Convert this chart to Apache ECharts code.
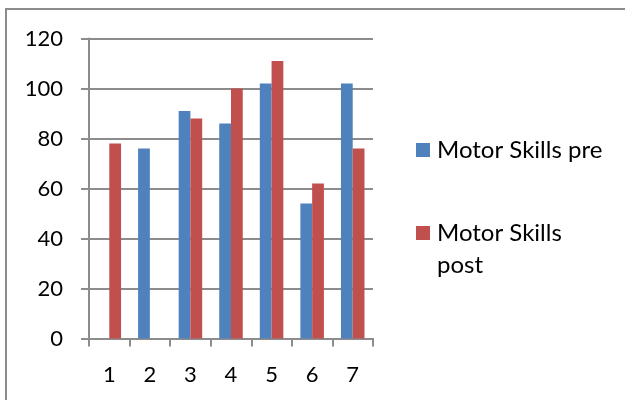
<!DOCTYPE html>
<html>
<head>
<meta charset="utf-8">
<style>
  html, body { margin: 0; padding: 0; background: #fff; }
  #chart { width: 625px; height: 400px; }
</style>
<script src="https://cdn.jsdelivr.net/npm/echarts@6/dist/echarts.min.js"></script>
</head>
<body>
<div id="chart"></div>
<script>
// Participants 1–7, motor skills scores before and after
const categories = ['1', '2', '3', '4', '5', '6', '7'];
const preScores = [null, 76, 91, 86, 102, 54, 102];
const postScores = [78, null, 88, 100, 111, 62, 76];
const yTicks = { min: 0, max: 120, step: 20 };
const seriesNames = ['Motor Skills pre', 'Motor Skills post'];

const axisGray = '#8c8c8c';
const font = 'Lato, "Noto Sans", sans-serif';
const legendText = { fontFamily: font, fontSize: 24, color: '#000', lineHeight: 32, padding: [0, 0, 0, 2] };

const chart = echarts.init(document.getElementById('chart'), null, { renderer: 'canvas' });

chart.setOption({
  animation: false,
  backgroundColor: '#fff',
  graphic: [{
    type: 'rect',
    shape: { x: 6, y: 9, width: 700, height: 500 },
    style: { fill: 'none', stroke: axisGray, lineWidth: 2 },
    silent: true
  }],
  grid: { left: 89, right: 252, top: 38.5, bottom: 61.5, containLabel: false },
  legend: [{
    data: [seriesNames[0]],
    left: 411,
    top: 129,
    orient: 'vertical',
    itemWidth: 14,
    itemHeight: 14,
    icon: 'rect',
    textStyle: legendText
  }, {
    data: [seriesNames[1]],
    left: 411,
    top: 212,
    orient: 'vertical',
    itemWidth: 14,
    itemHeight: 46,
    // square sits at the top of a taller icon box so it lines up with the first text line
    icon: 'path://M0 0H14V14H0ZM0 46H14V46H0Z',
    formatter: () => 'Motor Skills\npost',
    textStyle: legendText
  }],
  xAxis: {
    type: 'category',
    data: categories,
    axisLine: { lineStyle: { color: axisGray, width: 2 } },
    axisTick: { show: true, length: 8, lineStyle: { color: axisGray, width: 2 } },
    axisLabel: { fontFamily: font, fontSize: 22, color: '#000', margin: 25 }
  },
  yAxis: {
    type: 'value',
    min: yTicks.min,
    max: yTicks.max,
    interval: yTicks.step,
    axisLine: { show: true, lineStyle: { color: axisGray, width: 2 } },
    axisTick: { show: true, length: 8, lineStyle: { color: axisGray, width: 2 } },
    splitLine: { lineStyle: { color: axisGray, width: 2 } },
    axisLabel: { fontFamily: font, fontSize: 22, color: '#000', margin: 26 }
  },
  series: [{
    name: seriesNames[0],
    type: 'bar',
    data: preScores,
    barGap: '0%',
    barCategoryGap: '42%',
    itemStyle: { color: '#4F81BD' }
  }, {
    name: seriesNames[1],
    type: 'bar',
    data: postScores,
    barGap: '0%',
    barCategoryGap: '42%',
    itemStyle: { color: '#C0504D' }
  }]
});
</script>
</body>
</html>
